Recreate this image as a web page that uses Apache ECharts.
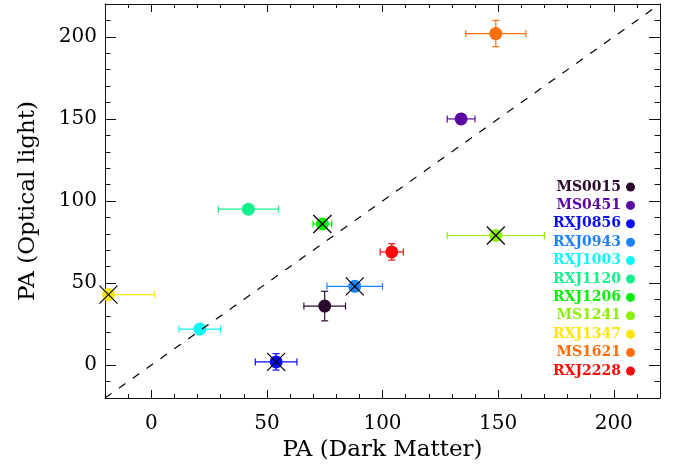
<!DOCTYPE html>
<html>
<head>
<meta charset="utf-8">
<script src="https://cdn.jsdelivr.net/npm/echarts@6/dist/echarts.min.js"></script>
<style>html,body{margin:0;padding:0;background:#fff;}#c{width:686px;height:470px;}</style>
</head>
<body>
<div id="c"></div>
<script>
const names = ['MS0015','MS0451','RXJ0856','RXJ0943','RXJ1003','RXJ1120','RXJ1206','MS1241','RXJ1347','MS1621','RXJ2228'];
const colors = ['#2c0a2e','#5a0aa0','#0a0aff','#1e82ff','#10f5f5','#14f08c','#0aee0a','#8cf00a','#ffe60a','#ff6e0a','#ff0a0a'];
const paDM = [75, 134, 54, 88, 21, 42, 74, 149, -18.5, 149, 104];
const paDMErr = [9, 6, 9, 12, 9, 13, 4, 21, 20, 13, 5];
const paOpt = [36, 150, 2, 48, 22, 95, 86, 79, 43, 202, 69];
const paOptErr = [9, 2, 5, 2, 1, 1, 2, 1, 1, 8, 5];
const crossed = [0, 0, 1, 1, 0, 0, 1, 1, 1, 0, 0];
const majorTicks = [0, 50, 100, 150, 200];
const axisMin = -20, axisMax = 220;

const FONT = 'DejaVu Serif';
const chart = echarts.init(document.getElementById('c'), null, {renderer: 'canvas'});

function makeAxis(kind, pos, major, withLabels, name) {
  const isX = kind === 'x';
  const ax = {
    type: 'value', position: pos, min: axisMin, max: axisMax,
    splitLine: {show: false},
    axisLine: {show: major, onZero: false, lineStyle: {color: '#111', width: 1}},
    axisTick: {show: true, inside: true, length: isX ? (major ? 8 : 4) : (major ? 11 : 5.5),
               lineStyle: {color: '#111', width: 1}},
    axisLabel: {show: withLabels, fontFamily: FONT, fontSize: 20, color: '#000', margin: isX ? 16 : 8}
  };
  ax.interval = 10;
  if (major) {
    ax.axisTick.customValues = majorTicks;
    ax.axisLabel.customValues = majorTicks;
  }
  if (name) {
    ax.name = name;
    ax.nameLocation = 'middle';
    ax.nameGap = isX ? 41 : 65;
    ax.nameTextStyle = {fontFamily: FONT, fontSize: 23, color: '#000'};
  }
  return ax;
}

const errData = names.map((n, i) => [paDM[i], paOpt[i], paDMErr[i], paOptErr[i], i]);
const crossData = names.map((n, i) => [paDM[i], paOpt[i], i]).filter(d => crossed[d[2]]);

function clampX(v) { return Math.max(axisMin, Math.min(axisMax, v)); }

const series = [];
series.push({
  type: 'custom', name: '_err', xAxisIndex: 0, yAxisIndex: 0, z: 2, silent: true,
  data: errData,
  renderItem: function (params, api) {
    const x = api.value(0), y = api.value(1), xe = api.value(2), ye = api.value(3), idx = api.value(4);
    const col = colors[idx];
    const cap = 3.5;
    const ch = [];
    const xl = clampX(x - xe), xr = clampX(x + xe);
    const pl = api.coord([xl, y]), pr = api.coord([xr, y]);
    ch.push({type: 'line', shape: {x1: pl[0], y1: pl[1], x2: pr[0], y2: pr[1]}, style: {stroke: col, lineWidth: 1.2}});
    if (xl === x - xe) ch.push({type: 'line', shape: {x1: pl[0], y1: pl[1] - cap, x2: pl[0], y2: pl[1] + cap}, style: {stroke: col, lineWidth: 1.2}});
    if (xr === x + xe) ch.push({type: 'line', shape: {x1: pr[0], y1: pr[1] - cap, x2: pr[0], y2: pr[1] + cap}, style: {stroke: col, lineWidth: 1.2}});
    if (ye > 0) {
      const pt = api.coord([x, y + ye]), pb = api.coord([x, y - ye]);
      ch.push({type: 'line', shape: {x1: pt[0], y1: pt[1], x2: pb[0], y2: pb[1]}, style: {stroke: col, lineWidth: 1.2}});
      ch.push({type: 'line', shape: {x1: pt[0] - cap, y1: pt[1], x2: pt[0] + cap, y2: pt[1]}, style: {stroke: col, lineWidth: 1.2}});
      ch.push({type: 'line', shape: {x1: pb[0] - cap, y1: pb[1], x2: pb[0] + cap, y2: pb[1]}, style: {stroke: col, lineWidth: 1.2}});
    }
    return {type: 'group', children: ch};
  }
});
names.forEach((n, i) => {
  series.push({
    type: 'scatter', name: n, xAxisIndex: 0, yAxisIndex: 0, z: 3,
    symbol: 'circle', symbolSize: 13,
    itemStyle: {color: colors[i], opacity: 1},
    data: [[paDM[i], paOpt[i]]]
  });
});
series.push({
  type: 'custom', name: '_cross', xAxisIndex: 0, yAxisIndex: 0, z: 4, silent: true,
  data: crossData,
  renderItem: function (params, api) {
    const p = api.coord([api.value(0), api.value(1)]);
    const h = 9;
    return {type: 'group', children: [
      {type: 'line', shape: {x1: p[0] - h, y1: p[1] - h, x2: p[0] + h, y2: p[1] + h}, style: {stroke: '#000', lineWidth: 1.2}},
      {type: 'line', shape: {x1: p[0] - h, y1: p[1] + h, x2: p[0] + h, y2: p[1] - h}, style: {stroke: '#000', lineWidth: 1.2}}
    ]};
  }
});
series.push({
  type: 'line', name: '_diag', xAxisIndex: 0, yAxisIndex: 0, z: 5, silent: true,
  symbol: 'none', data: [[axisMin, axisMin], [axisMax, axisMax]],
  lineStyle: {color: '#000', width: 1.2, type: [8, 9]}
});

chart.setOption({
  animation: false,
  backgroundColor: '#fff',
  grid: {left: 105, top: 4, width: 555, height: 394, containLabel: false},
  xAxis: [
    makeAxis('x', 'bottom', true, true, 'PA (Dark Matter)'),
    makeAxis('x', 'bottom', false, false),
    makeAxis('x', 'top', true, false),
    makeAxis('x', 'top', false, false)
  ],
  yAxis: [
    makeAxis('y', 'left', true, true, 'PA (Optical light)'),
    makeAxis('y', 'left', false, false),
    makeAxis('y', 'right', true, false),
    makeAxis('y', 'right', false, false)
  ],
  legend: {
    orient: 'vertical', right: 46, top: 174, align: 'right',
    itemWidth: 9, itemHeight: 9, itemGap: 2.4,
    selectedMode: false,
    data: names.map((n, i) => ({name: n, icon: 'circle', textStyle: {color: colors[i]}})),
    textStyle: {fontFamily: FONT, fontSize: 14, fontWeight: 'bold', lineHeight: 16}
  },
  series: series
});
</script>
</body>
</html>
